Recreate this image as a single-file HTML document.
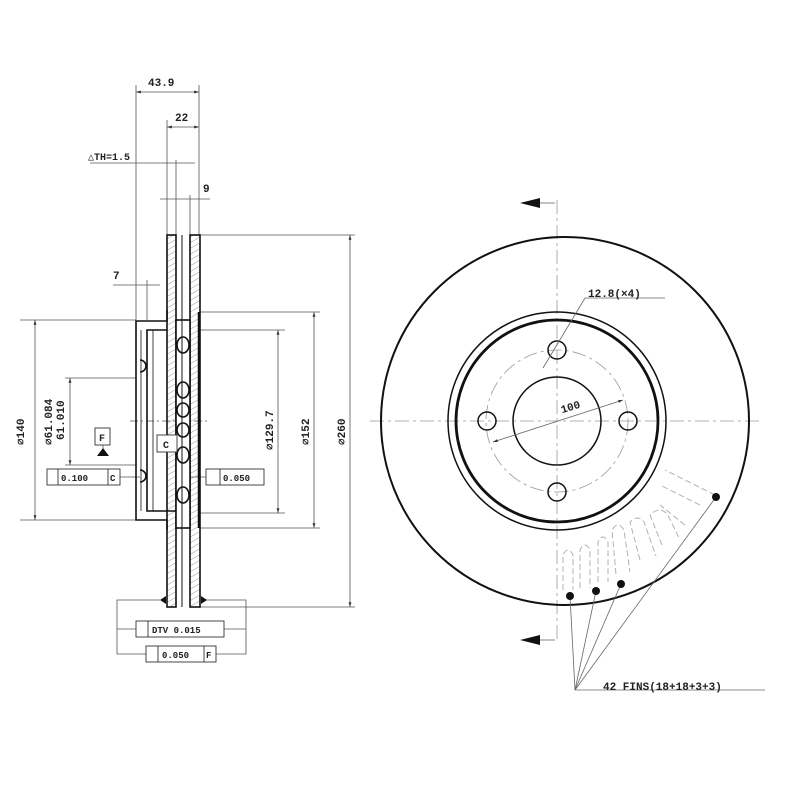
<!DOCTYPE html>
<html><head><style>
html,body{margin:0;padding:0;background:#fff;}
svg text{font-family:"Liberation Mono","DejaVu Sans Mono",monospace;font-weight:bold;fill:#222;}
</style></head><body>
<svg width="800" height="800" viewBox="0 0 800 800" xmlns="http://www.w3.org/2000/svg">
<defs>
<marker id="a" viewBox="0 0 10 10" refX="10" refY="5" markerWidth="6" markerHeight="6" orient="auto-start-reverse"><path d="M0,2 L10,5 L0,8 z" fill="#333"/></marker>
<pattern id="h" width="5" height="5" patternUnits="userSpaceOnUse" patternTransform="rotate(60)"><line x1="0" y1="0" x2="0" y2="5" stroke="#999" stroke-width="1"/></pattern>
</defs>
<g stroke="#555" stroke-width="0.8" fill="none">
<!-- extension lines -->
<line x1="136" y1="85" x2="136" y2="320"/>
<line x1="199" y1="85" x2="199" y2="235"/>
<line x1="167" y1="120" x2="167" y2="235"/>
<line x1="176" y1="160" x2="176" y2="235"/>
<line x1="190" y1="195" x2="190" y2="235"/>
<line x1="147" y1="280" x2="147" y2="320"/>
<line x1="136" y1="92" x2="199" y2="92" marker-start="url(#a)" marker-end="url(#a)"/>
<line x1="167" y1="127" x2="199" y2="127" marker-start="url(#a)" marker-end="url(#a)"/>
<line x1="90" y1="163" x2="195" y2="163"/>
<line x1="160" y1="199" x2="210" y2="199"/>
<line x1="113" y1="285" x2="160" y2="285"/>
<!-- diameter dims -->
<line x1="20" y1="320" x2="136" y2="320"/>
<line x1="20" y1="520" x2="136" y2="520"/>
<line x1="35" y1="320" x2="35" y2="520" marker-start="url(#a)" marker-end="url(#a)"/>
<line x1="65" y1="378" x2="136" y2="378"/>
<line x1="65" y1="465" x2="136" y2="465"/>
<line x1="70" y1="378" x2="70" y2="465" marker-start="url(#a)" marker-end="url(#a)"/>
<line x1="200" y1="330" x2="285" y2="330"/>
<line x1="200" y1="513" x2="285" y2="513"/>
<line x1="278" y1="330" x2="278" y2="513" marker-start="url(#a)" marker-end="url(#a)"/>
<line x1="200" y1="312" x2="320" y2="312"/>
<line x1="200" y1="528" x2="320" y2="528"/>
<line x1="314" y1="312" x2="314" y2="528" marker-start="url(#a)" marker-end="url(#a)"/>
<line x1="200" y1="235" x2="355" y2="235"/>
<line x1="200" y1="607" x2="355" y2="607"/>
<line x1="350" y1="235" x2="350" y2="607" marker-start="url(#a)" marker-end="url(#a)"/>
<line x1="130" y1="421" x2="210" y2="421" stroke-dasharray="8,3,2,3"/>
<!-- control frames -->
<polyline points="160,600 117,600 117,654 146,654"/>
<polyline points="204,600 246,600 246,654 216,654"/>
<line x1="117" y1="629" x2="136" y2="629"/>
<line x1="224" y1="629" x2="246" y2="629"/>
<line x1="120" y1="477" x2="140" y2="477"/>
<line x1="185" y1="477" x2="206" y2="477"/>
<line x1="103" y1="445" x2="103" y2="455"/>
</g>
<!-- disc section -->
<g stroke="#111" stroke-width="1.6" fill="none">
<rect x="167" y="235" width="9" height="372" fill="url(#h)"/>
<rect x="190" y="235" width="10" height="372" fill="url(#h)"/>
<rect x="176" y="320" width="14" height="208" fill="#fff"/>
<line x1="182" y1="235" x2="182" y2="607" stroke-width="1"/>
<line x1="199" y1="312" x2="199" y2="528" stroke-width="2.5"/>
<path d="M167,310 L167,321 L136,321 L136,520 L167,520 L167,530"/>
<path d="M167,330 L147,330 L147,511 L176,511"/>
<line x1="141" y1="330" x2="141" y2="511" stroke-width="0.8"/>
<line x1="153" y1="330" x2="153" y2="511" stroke-width="0.8"/>
<ellipse cx="183" cy="410" rx="6" ry="7"/>
<ellipse cx="183" cy="430" rx="6" ry="7"/>
<ellipse cx="183" cy="390" rx="6" ry="8"/>
<ellipse cx="183" cy="455" rx="6" ry="8"/>
<ellipse cx="183" cy="345" rx="6" ry="8"/>
<ellipse cx="183" cy="495" rx="6" ry="8"/>
<path d="M140,360 a6,6 0 0 1 0,12"/>
<path d="M140,470 a6,6 0 0 1 0,12"/>
</g>
<path d="M160,441 L168,445 L160,449 z" fill="#111"/>
<path d="M97,456 L103,448 L109,456 z" fill="#111"/>
<path d="M160,600 L166,596 L166,604 z" fill="#111"/>
<path d="M207,600 L201,596 L201,604 z" fill="#111"/>
<!-- boxes -->
<g stroke="#333" stroke-width="0.9" fill="#fff">
<rect x="95" y="428" width="15" height="17"/>
<rect x="157" y="435" width="20" height="17"/>
<rect x="47" y="469" width="73" height="16"/><line x1="58" y1="469" x2="58" y2="485"/><line x1="108" y1="469" x2="108" y2="485"/>
<rect x="206" y="469" width="58" height="16"/><line x1="220" y1="469" x2="220" y2="485"/>
<rect x="136" y="621" width="88" height="16"/><line x1="148" y1="621" x2="148" y2="637"/>
<rect x="146" y="646" width="70" height="16"/><line x1="158" y1="646" x2="158" y2="662"/><line x1="204" y1="646" x2="204" y2="662"/>
</g>
<g font-size="11">
<text x="148" y="86">43.9</text>
<text x="175" y="121">22</text>
<text x="88" y="160" font-size="10">△TH=1.5</text>
<text x="203" y="192">9</text>
<text x="113" y="279">7</text>
<text x="99" y="441" font-size="10">F</text>
<text x="163" y="448" font-size="10">C</text>
<text x="61" y="481" font-size="9">0.100</text><text x="110" y="481" font-size="9">C</text>
<text x="223" y="481" font-size="9">0.050</text>
<text x="152" y="633" font-size="9">DTV 0.015</text>
<text x="162" y="658" font-size="9">0.050</text><text x="206" y="658" font-size="9">F</text>
<text transform="translate(24,445) rotate(-90)" font-size="11">⌀140</text>
<text transform="translate(52,445) rotate(-90)" font-size="11">⌀61.084</text>
<text transform="translate(64,440) rotate(-90)" font-size="11">61.010</text>
<text transform="translate(273,450) rotate(-90)" font-size="11">⌀129.7</text>
<text transform="translate(309,445) rotate(-90)" font-size="11">⌀152</text>
<text transform="translate(345,445) rotate(-90)" font-size="11">⌀260</text>
</g>
<!-- front view -->
<g stroke="#999" stroke-width="0.8" fill="none" stroke-dasharray="14,4,3,4">
<line x1="557" y1="200" x2="557" y2="640"/>
<line x1="370" y1="421" x2="760" y2="421"/>
<circle cx="557" cy="421" r="71"/>
</g>
<g stroke="#111" fill="none">
<circle cx="565" cy="421" r="184" stroke-width="2"/>
<circle cx="557" cy="421" r="109" stroke-width="1.5"/>
<circle cx="557" cy="421" r="101" stroke-width="2.8"/>
<circle cx="557" cy="421" r="44" stroke-width="1.5"/>
<circle cx="557" cy="350" r="9" stroke-width="1.5"/>
<circle cx="487" cy="421" r="9" stroke-width="1.5"/>
<circle cx="628" cy="421" r="9" stroke-width="1.5"/>
<circle cx="557" cy="492" r="9" stroke-width="1.5"/>
</g>
<g stroke="#666" stroke-width="0.8" fill="none">
<line x1="493" y1="442" x2="623" y2="400" marker-start="url(#a)" marker-end="url(#a)"/>
<polyline points="665,298 585,298 543,368" />
<line x1="540" y1="203" x2="555" y2="203"/><line x1="540" y1="640" x2="555" y2="640"/>
<line x1="575" y1="690" x2="570" y2="596"/>
<line x1="575" y1="690" x2="596" y2="591"/>
<line x1="575" y1="690" x2="621" y2="584"/>
<line x1="575" y1="690" x2="716" y2="497"/>
<line x1="575" y1="690" x2="765" y2="690"/>
</g>
<g stroke="#aaa" stroke-width="0.9" fill="none" stroke-dasharray="6,3">
<path d="M563,590 L563,555 Q568,545 573,555 L573,590"/>
<path d="M580,588 L580,550 Q585,540 590,550 L590,588"/>
<path d="M598,582 L598,542 Q603,532 608,542 L608,582"/>
<path d="M616,574 L612,530 Q618,520 624,530 L630,572"/>
<path d="M640,560 L630,522 Q638,514 644,522 L656,556"/>
<path d="M662,545 L650,515 Q660,505 668,515 L680,540"/>
<path d="M685,525 L660,505"/>
<path d="M700,505 L660,485"/>
<path d="M715,495 L665,470"/>
</g>
<path d="M520,203 L540,198 L540,208 z" fill="#111"/>
<path d="M520,640 L540,635 L540,645 z" fill="#111"/>
<g fill="#111">
<circle cx="570" cy="596" r="4"/><circle cx="596" cy="591" r="4"/><circle cx="621" cy="584" r="4"/><circle cx="716" cy="497" r="4"/>
</g>
<g font-size="11">
<text x="588" y="297">12.8(×4)</text>
<text x="560" y="410" transform="rotate(-17 572 405)">100</text>
<text x="603" y="690">42 FINS(18+18+3+3)</text>
</g>
</svg>
</body></html>
